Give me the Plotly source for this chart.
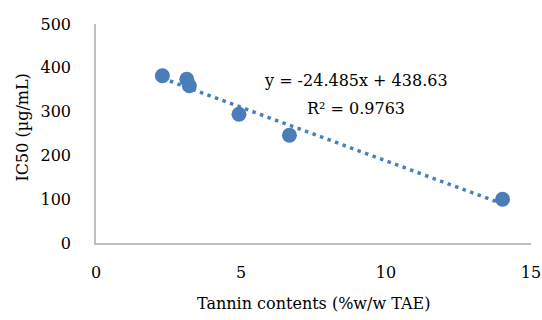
import numpy as np
import plotly.graph_objects as go

tannin = [2.29, 3.13, 3.22, 4.93, 6.67, 14.02]
ic50 = [382, 374, 359, 294, 246, 100]
slope_label = -24.485
intercept_label = 438.63
r2_label = 0.9763
x_ticks = [0, 5, 10, 15]
y_ticks = [0, 100, 200, 300, 400, 500]

coef = np.polyfit(tannin, ic50, 1)
xfit = np.array([min(tannin), max(tannin)])
yfit = np.polyval(coef, xfit)

blue = "#4A7EBB"
font = "DejaVu Serif"

fig = go.Figure()
fig.add_trace(go.Scatter(x=xfit, y=yfit, mode="lines",
                         line=dict(color=blue, width=3.5, dash="3.5px,4.5px"),
                         hoverinfo="skip", showlegend=False))
fig.add_trace(go.Scatter(x=tannin, y=ic50, mode="markers",
                         marker=dict(color=blue, size=15),
                         showlegend=False))

fig.add_annotation(x=0.598, y=0.740, xref="paper", yref="paper",
                   xanchor="center", yanchor="middle",
                   text=f"y = {slope_label}x + {intercept_label}",
                   showarrow=False, font=dict(family=font, size=16, color="#000"))
fig.add_annotation(x=0.598, y=0.616, xref="paper", yref="paper",
                   xanchor="center", yanchor="middle",
                   text=f"R² = {r2_label}",
                   showarrow=False, font=dict(family=font, size=16, color="#000"))
fig.add_annotation(x=0.5, y=-0.274, xref="paper", yref="paper",
                   xanchor="center", yanchor="middle",
                   text="Tannin contents (%w/w TAE)",
                   showarrow=False, font=dict(family=font, size=16, color="#000"))
fig.add_annotation(x=-0.168, y=0.527, xref="paper", yref="paper",
                   xanchor="center", yanchor="middle", textangle=-90,
                   text="IC50 (µg/mL)",
                   showarrow=False, font=dict(family=font, size=16, color="#000"))

fig.update_layout(
    width=542, height=320,
    margin=dict(l=96, r=11, t=24, b=77),
    paper_bgcolor="white", plot_bgcolor="white",
    font=dict(family=font, size=16, color="#000"),
    xaxis=dict(range=[0, 15], tickvals=x_ticks, showgrid=False, zeroline=False,
               showline=True, linecolor="#BFBFBF", linewidth=1.5, ticks="",
               ticklabelstandoff=14, automargin=False),
    yaxis=dict(range=[0, 500], tickvals=y_ticks, showgrid=False, zeroline=False,
               showline=True, linecolor="#BFBFBF", linewidth=1.5, ticks="",
               ticklabelstandoff=20, automargin=False),
)
fig.write_html("out.html", config={"displayModeBar": False},
               post_script="document.body.style.margin='0';document.body.style.overflow='hidden';")
